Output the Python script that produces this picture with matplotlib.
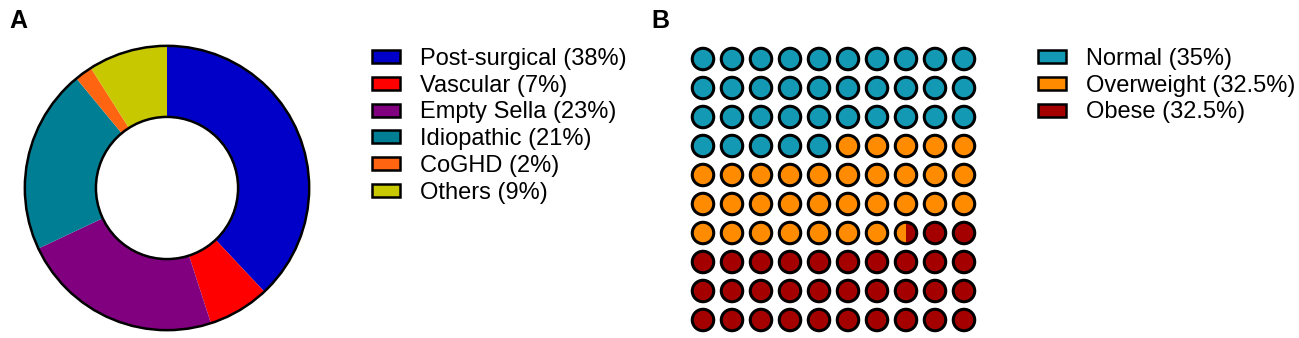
import numpy as np
import matplotlib.pyplot as plt
from matplotlib.patches import Patch, Circle, Wedge

plt.rcParams['font.family'] = ['Liberation Sans', 'DejaVu Sans']

# panel A data
causes = ['Post-surgical', 'Vascular', 'Empty Sella', 'Idiopathic', 'CoGHD', 'Others']
cause_pct = [38, 7, 23, 21, 2, 9]
cause_colors = ['#0000c8', '#ff0000', '#800080', '#007f94', '#ff6410', '#c8c800']

# panel B data
bmi_groups = ['Normal', 'Overweight', 'Obese']
bmi_pct = [35, 32.5, 32.5]
bmi_colors = ['#1499b4', '#ff8c00', '#a50000']

W, H = 1299, 338
fig = plt.figure(figsize=(W / 100, H / 100), dpi=100)


def px_axes(x0, y0, x1, y1):
    # axes from pixel box (top-left origin)
    return fig.add_axes([x0 / W, 1 - y1 / H, (x1 - x0) / W, (y1 - y0) / H])


leg_kw = dict(loc='upper left', frameon=False, fontsize=17, handlelength=1.2,
              handleheight=0.47, handletextpad=0.85, labelspacing=0.2,
              borderpad=0, borderaxespad=0)

# ---- A: donut
ax = px_axes(22, 43, 312, 333)
ax.pie(cause_pct, colors=cause_colors, startangle=90, counterclock=False,
       radius=1, wedgeprops=dict(width=0.5, edgecolor='none'))
ax.add_patch(Circle((0, 0), 1, fill=False, ec='black', lw=1.8))
ax.add_patch(Circle((0, 0), 0.5, fill=False, ec='black', lw=1.8))
ax.set_xlim(-1.02, 1.02)
ax.set_ylim(-1.02, 1.02)
ax.set_aspect('equal')
ax.axis('off')

handles = [Patch(fc=c, ec='black', lw=1.8) for c in cause_colors]
labels = [f'{n} ({p}%)' for n, p in zip(causes, cause_pct)]
fig.legend(handles, labels, bbox_to_anchor=(372 / W, 1 - 48 / H), **leg_kw)

# ---- B: waffle 10x10, filled row by row from top-left
ax2 = px_axes(688.5, 44.5, 978.5, 334.5)
ncol, nrow = 10, 10
bounds = np.concatenate([[0], np.cumsum(bmi_pct)])
r = 0.37
for k in range(ncol * nrow):
    col, row = k % ncol, k // ncol
    x, y = col, -row
    parts = []
    for g in range(len(bmi_pct)):
        a, b = max(k, bounds[g]), min(k + 1, bounds[g + 1])
        if b > a:
            parts.append(g)
    if len(parts) == 1:
        ax2.add_patch(Circle((x, y), r, fc=bmi_colors[parts[0]], ec='none'))
    else:
        # split cell: left half first group, right half second group
        ax2.add_patch(Wedge((x, y), r, 90, 270, fc=bmi_colors[parts[0]], ec='none'))
        ax2.add_patch(Wedge((x, y), r, -90, 90, fc=bmi_colors[parts[1]], ec='none'))
    ax2.add_patch(Circle((x, y), r, fill=False, ec='black', lw=2.2))
ax2.set_xlim(-0.5, ncol - 0.5)
ax2.set_ylim(-nrow + 0.5, 0.5)
ax2.set_aspect('equal')
ax2.axis('off')

handles2 = [Patch(fc=c, ec='black', lw=1.8) for c in bmi_colors]
labels2 = [f'{n} ({p:g}%)' for n, p in zip(bmi_groups, bmi_pct)]
fig.legend(handles2, labels2, bbox_to_anchor=(1038 / W, 1 - 48 / H), **leg_kw)

fig.text(9 / W, 1 - 28 / H, 'A', fontsize=18, fontweight='bold')
fig.text(651 / W, 1 - 28 / H, 'B', fontsize=18, fontweight='bold')

fig.savefig('out.png', dpi=100)
